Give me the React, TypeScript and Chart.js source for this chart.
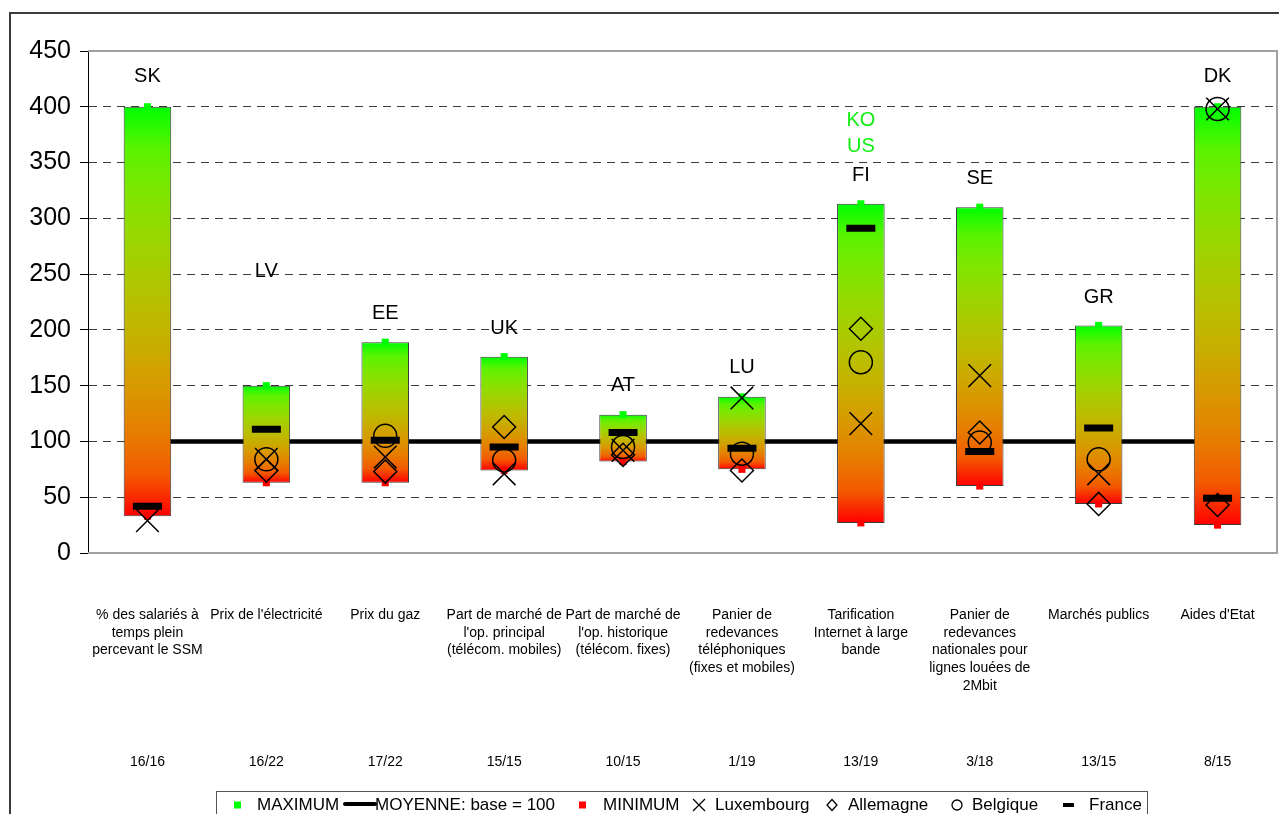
import React, { useEffect, useRef } from "react";
import { Chart, registerables } from "chart.js";

Chart.register(...registerables);

// ---------- DATA ----------
const categoryLines: string[][] = [
  ["% des salariés à", "temps plein", "percevant le SSM"],
  ["Prix de l'électricité"],
  ["Prix du gaz"],
  ["Part de marché de", "l'op. principal", "(télécom. mobiles)"],
  ["Part de marché de", "l'op. historique", "(télécom. fixes)"],
  ["Panier de", "redevances", "téléphoniques", "(fixes et mobiles)"],
  ["Tarification", "Internet à large", "bande"],
  ["Panier de", "redevances", "nationales pour", "lignes louées de", "2Mbit"],
  ["Marchés publics"],
  ["Aides d'Etat"],
];
const ratioLabels = ["16/16", "16/22", "17/22", "15/15", "10/15", "1/19", "13/19", "3/18", "13/15", "8/15"];
const maxCountries = ["SK", "LV", "EE", "UK", "AT", "LU", "FI", "SE", "GR", "DK"];
const maxLabelAnchor = [427, 252, 215, 201, 150, 166, 338, 336, 229, 427];
const extraLabels = [
  { index: 6, text: "KO", value: 388 },
  { index: 6, text: "US", value: 364 },
];
const maxValues = [400, 150, 189, 176, 124, 140, 313, 310, 204, 400];
const minValues = [33, 63, 63, 74, 82, 75, 27, 60, 44, 25];
const moyenne = [100, 100, 100, 100, 100, 100, 100, 100, 100, 100];
const france = [42, 111, 101, 95, 108, 94, 291, 91, 112, 49];
const luxembourg = [29, 84, 86, 71, 92, 139, 116, 159, 71, 398];
const allemagne = [null, 74, 73, 113, 88, 74, 201, 108, 44, 43];
const belgique = [null, 84, 105, 83, 95, 89, 171, 99, 84, 398];
const yTicks = [0, 50, 100, 150, 200, 250, 300, 350, 400, 450];

// ---------- STYLE ----------
const FONT = '"Liberation Sans", Arial, Helvetica, sans-serif';
const W = 1279;
const H = 814;

function srgb(x: number) {
  return x <= 0.0031308 ? 12.92 * x : 1.055 * Math.pow(x, 1 / 2.4) - 0.055;
}

function makeGradient(ctx: CanvasRenderingContext2D, top: number, bottom: number) {
  const g = ctx.createLinearGradient(0, top, 0, bottom);
  for (let k = 0; k <= 10; k++) {
    const t = k / 10;
    const r = Math.round(255 * srgb(t));
    const gr = Math.round(255 * srgb(1 - t));
    g.addColorStop(t, `rgb(${r},${gr},0)`);
  }
  return g;
}

const framePlugin = {
  id: "plotFrame",
  beforeDatasetsDraw(chart: any) {
    const { ctx, chartArea: a } = chart;
    ctx.save();
    ctx.strokeStyle = "#a0a0a0";
    ctx.lineWidth = 2;
    ctx.beginPath();
    ctx.moveTo(a.left, a.top);
    ctx.lineTo(a.right, a.top);
    ctx.lineTo(a.right, a.bottom);
    ctx.lineTo(a.left, a.bottom);
    ctx.stroke();
    ctx.restore();
  },
};

const labelsPlugin = {
  id: "textLabels",
  afterDatasetsDraw(chart: any) {
    const { ctx, chartArea: a } = chart;
    const xs = chart.scales.x;
    const ys = chart.scales.y;
    ctx.save();
    ctx.textAlign = "center";
    ctx.textBaseline = "middle";
    ctx.font = `20px ${FONT}`;
    ctx.fillStyle = "#000";
    maxCountries.forEach((c, i) => {
      ctx.fillText(c, xs.getPixelForValue(i), ys.getPixelForValue(maxLabelAnchor[i]));
    });
    ctx.fillStyle = "#14ee14";
    extraLabels.forEach((e) => {
      ctx.fillText(e.text, xs.getPixelForValue(e.index), ys.getPixelForValue(e.value));
    });
    ctx.fillStyle = "#000";
    ctx.font = `14px ${FONT}`;
    categoryLines.forEach((lines, i) => {
      const x = xs.getPixelForValue(i);
      lines.forEach((ln, k) => {
        ctx.fillText(ln, x, a.bottom + 62 + k * 17.8);
      });
      ctx.fillText(ratioLabels[i], x, a.bottom + 209);
    });
    ctx.restore();
  },
  afterDraw(chart: any) {
    const { ctx } = chart;
    ctx.save();
    ctx.strokeStyle = "#3c3c3c";
    ctx.lineWidth = 2;
    ctx.strokeRect(10, 13, W + 20, H + 20);
    ctx.strokeStyle = "#555";
    ctx.lineWidth = 1;
    ctx.strokeRect(216.5, 791.5, 931, 40);
    const cy = 805;
    ctx.font = `17px ${FONT}`;
    ctx.textBaseline = "middle";
    ctx.textAlign = "left";
    ctx.fillStyle = "#00ff00";
    ctx.fillRect(234, cy - 3.5, 7, 7);
    ctx.fillStyle = "#000";
    ctx.fillText("MAXIMUM", 257, cy);
    ctx.strokeStyle = "#000";
    ctx.lineWidth = 4;
    ctx.lineCap = "round";
    ctx.beginPath();
    ctx.moveTo(345, cy - 1);
    ctx.lineTo(375, cy - 1);
    ctx.stroke();
    ctx.lineCap = "butt";
    ctx.fillText("MOYENNE: base = 100", 375, cy);
    ctx.fillStyle = "#ff0000";
    ctx.fillRect(579, cy - 3.5, 7, 7);
    ctx.fillStyle = "#000";
    ctx.fillText("MINIMUM", 603, cy);
    ctx.lineWidth = 1.3;
    ctx.beginPath();
    ctx.moveTo(693, cy - 6);
    ctx.lineTo(705, cy + 6);
    ctx.moveTo(705, cy - 6);
    ctx.lineTo(693, cy + 6);
    ctx.stroke();
    ctx.fillText("Luxembourg", 715, cy);
    ctx.beginPath();
    ctx.moveTo(832, cy - 5.5);
    ctx.lineTo(837, cy);
    ctx.lineTo(832, cy + 5.5);
    ctx.lineTo(827, cy);
    ctx.closePath();
    ctx.stroke();
    ctx.fillText("Allemagne", 848, cy);
    ctx.beginPath();
    ctx.arc(957, cy, 5, 0, Math.PI * 2);
    ctx.stroke();
    ctx.fillText("Belgique", 972, cy);
    ctx.fillRect(1063, cy - 2, 11, 4);
    ctx.fillText("France", 1089, cy);
    ctx.restore();
  },
};

export default function App() {
  const ref = useRef<HTMLCanvasElement | null>(null);

  useEffect(() => {
    if (!ref.current) return;
    const markerBase = {
      type: "line" as const,
      showLine: false,
      borderColor: "#000",
      backgroundColor: "rgba(0,0,0,0)",
      pointHoverRadius: 0,
    };
    const chart = new Chart(ref.current, {
      type: "bar",
      data: {
        labels: categoryLines.map((l) => l.join(" ")),
        datasets: [
          {
            type: "line",
            label: "MOYENNE: base = 100",
            data: moyenne,
            borderColor: "#000",
            borderWidth: 4.5,
            pointRadius: 0,
            order: 10,
          } as any,
          {
            type: "bar",
            label: "range",
            data: minValues.map((m, i) => [m, maxValues[i]]),
            backgroundColor: (c: any) => {
              const chart = c.chart;
              const ys = chart.scales?.y;
              if (c.type !== "data" || !ys) return "#00ff00";
              const i = c.dataIndex;
              const top = ys.getPixelForValue(maxValues[i]);
              const bot = ys.getPixelForValue(minValues[i]);
              if (!isFinite(top) || !isFinite(bot)) return "#00ff00";
              return makeGradient(chart.ctx, top, bot);
            },
            borderColor: "#3a3a3a",
            borderWidth: 1,
            borderSkipped: false,
            categoryPercentage: 1,
            barPercentage: 0.4,
            order: 5,
          } as any,
          {
            ...markerBase,
            label: "MAXIMUM",
            data: maxValues,
            pointStyle: "rect",
            pointRadius: 5,
            pointBackgroundColor: "#00ff00",
            pointBorderWidth: 0,
            order: 4,
          } as any,
          {
            ...markerBase,
            label: "MINIMUM",
            data: minValues,
            pointStyle: "rect",
            pointRadius: 5,
            pointBackgroundColor: "#ff0000",
            pointBorderWidth: 0,
            order: 4,
          } as any,
          {
            ...markerBase,
            label: "Luxembourg",
            data: luxembourg,
            pointStyle: "crossRot",
            pointRadius: 16,
            pointBorderColor: "#000",
            pointBorderWidth: 1.5,
            order: 3,
          } as any,
          {
            ...markerBase,
            label: "Allemagne",
            data: allemagne,
            pointStyle: "rectRot",
            pointRadius: 11.5,
            pointBorderColor: "#000",
            pointBackgroundColor: "rgba(0,0,0,0)",
            pointBorderWidth: 1.5,
            order: 2,
          } as any,
          {
            ...markerBase,
            label: "Belgique",
            data: belgique,
            pointStyle: "circle",
            pointRadius: 11.5,
            pointBorderColor: "#000",
            pointBackgroundColor: "rgba(0,0,0,0)",
            pointBorderWidth: 1.5,
            order: 2,
          } as any,
          {
            ...markerBase,
            label: "France",
            data: france,
            pointStyle: "line",
            pointRadius: 14.5,
            pointBorderColor: "#000",
            pointBorderWidth: 7,
            order: 1,
          } as any,
        ],
      },
      options: {
        responsive: false,
        animation: false,
        events: [],
        layout: { autoPadding: false, padding: { top: 51, right: 2, left: 0, bottom: 0 } },
        plugins: {
          legend: { display: false },
          tooltip: { enabled: false },
        },
        scales: {
          x: {
            type: "category",
            offset: true,
            grid: { display: false },
            border: { display: false },
            ticks: { display: false },
            afterFit: (s: any) => {
              s.height = 261;
            },
          },
          y: {
            min: 0,
            max: 450,
            afterBuildTicks: (s: any) => {
              s.ticks = yTicks.map((v) => ({ value: v }));
            },
            ticks: {
              color: "#000",
              padding: 9,
              font: { family: FONT, size: 25 },
            },
            grid: {
              color: (c: any) =>
                c.tick && (c.tick.value === 0 || c.tick.value === 450) ? "rgba(0,0,0,0)" : "#3a3a3a",
              tickColor: "#000",
              tickLength: 8,
              lineWidth: 1,
            },
            border: { display: true, color: "#000", width: 1, dash: [8, 6] },
            afterFit: (s: any) => {
              s.width = 88;
            },
          },
        },
      } as any,
      plugins: [framePlugin, labelsPlugin],
    });
    return () => chart.destroy();
  }, []);

  return (
    <div style={{ position: "fixed", left: 0, top: 0, width: W, height: H, background: "#fff", overflow: "hidden" }}>
      <canvas ref={ref} width={W} height={H} style={{ display: "block", width: W, height: H }} />
    </div>
  );
}
